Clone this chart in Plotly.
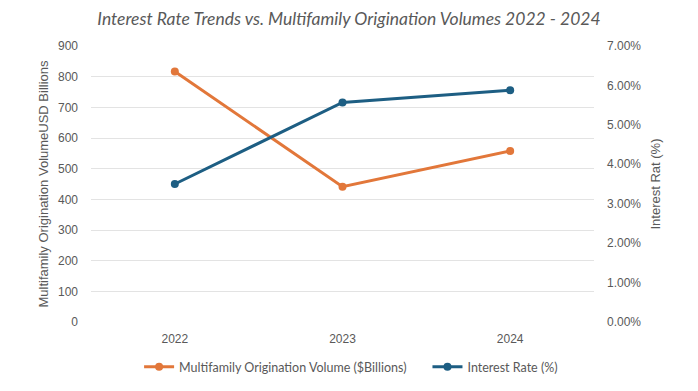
import plotly.graph_objects as go

years = ["2022", "2023", "2024"]
volume = [817, 441, 558]
rate = [3.5, 5.57, 5.88]

orange = "#E2773A"
blue = "#1D5E83"
grey = "#595959"
font = "Lato, 'Open Sans', sans-serif"
tickfont = "'Liberation Sans', Arial, sans-serif"

fig = go.Figure()
fig.add_trace(go.Scatter(x=years, y=volume, name="Multifamily Origination Volume ($Billions)     ",
                         mode="lines+markers", line=dict(color=orange, width=3),
                         marker=dict(size=8, color=orange), yaxis="y"))
fig.add_trace(go.Scatter(x=years, y=rate, name="Interest Rate (%)",
                         mode="lines+markers", line=dict(color=blue, width=3),
                         marker=dict(size=8, color=blue), yaxis="y2"))

fig.update_layout(
    width=698, height=391,
    margin=dict(l=91, r=104, t=46, b=69, autoexpand=False),
    paper_bgcolor="white", plot_bgcolor="white",
    font=dict(family=font, color=grey, size=12),
    title=dict(text="<i>Interest Rate Trends vs. Multifamily Origination Volumes 2022 - 2024</i>",
               x=0.5, xanchor="center", xref="container", y=0.953, yanchor="middle",
               font=dict(size=17.5, color=grey, family=font)),
    xaxis=dict(type="category", range=[-0.5, 2.5], showgrid=False, showline=False, ticks="",
               tickfont=dict(size=12, color=grey, family=tickfont), ticklabelstandoff=8,
               automargin=False),
    yaxis=dict(range=[0, 900], dtick=100, showgrid=True, gridcolor="#E3E3E3", gridwidth=1,
               zeroline=False, showline=False, ticks="", automargin=False,
               tickfont=dict(size=12, color=grey, family=tickfont), ticklabelstandoff=12,
               title=dict(text="Multifamily Origination VolumeUSD Billions",
                          font=dict(size=13, color=grey, family=tickfont), standoff=6)),
    yaxis2=dict(range=[0, 7], dtick=1, overlaying="y", side="right", showgrid=False,
                zeroline=False, showline=False, ticks="", ticksuffix=".00%", automargin=False,
                tickfont=dict(size=12, color=grey, family=tickfont), ticklabelstandoff=12,
                title=dict(text="Interest Rat (%)", font=dict(size=13, color=grey, family=tickfont),
                           standoff=10)),
    legend=dict(orientation="h", x=0.503, xanchor="center", xref="container",
                y=0.061, yanchor="middle", yref="container",
                font=dict(size=12.5, color=grey), itemwidth=30),
    showlegend=True,
)

fig.write_html("out.html", config={"displayModeBar": False},
               post_script="document.body.style.margin='0';")
